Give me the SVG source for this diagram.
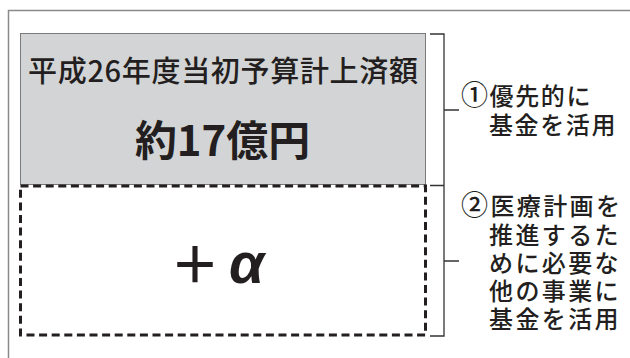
<svg xmlns="http://www.w3.org/2000/svg" width="630" height="358" viewBox="0 0 630 358">
<style>
.frame{fill:none;stroke:#8a8a8a;stroke-width:1.5}
.gray{fill:#d3d4d6;stroke:#7a7a7a;stroke-width:1}
.dash{fill:none;stroke:#231f20;stroke-width:3;stroke-dasharray:8 4.6}
.br{fill:none;stroke:#333;stroke-width:1.3}
.jp{font-family:"Noto Sans CJK JP","Noto Sans",sans-serif;fill:#231f20}
.lbl{font-size:24px;letter-spacing:1.6px;font-weight:500}
.num{font-size:27px}
</style>
<rect width="630" height="358" fill="#fff"/>
<path class="frame" d="M8.5,358 V10.5 H630"/>
<g id="budget">
<rect class="gray" x="20.5" y="33.5" width="405" height="151"/>
<text class="jp" x="28" y="82" font-size="29" font-weight="500" textLength="390" lengthAdjust="spacing">平成26年度当初予算計上済額</text>
<text class="jp" x="135" y="156" font-size="42" font-weight="bold" textLength="175" lengthAdjust="spacingAndGlyphs">約17億円</text>
</g>
<g id="alpha">
<rect class="dash" x="20.5" y="186" width="405" height="149"/>
<text class="jp" y="283"><tspan x="170" font-size="50" font-weight="bold">＋</tspan><tspan x="229" font-family="Liberation Sans,sans-serif" font-size="57" font-weight="bold" font-style="italic">α</tspan></text>
</g>
<g id="connectors">
<path class="br" d="M430,34 H444 V336 H430 M430,185.5 H444 M444,110 H459 M444,261 H459"/>
</g>
<g id="label1">
<text class="jp lbl"><tspan x="461" y="105"><tspan class="num">①</tspan>優先的に</tspan><tspan x="489" y="134">基金を活用</tspan></text>
</g>
<g id="label2">
<text class="jp lbl" style="letter-spacing:2.4px"><tspan x="461" y="215"><tspan class="num">②</tspan>医療計画を</tspan><tspan x="489" y="244">推進するた</tspan><tspan x="489" y="272">めに必要な</tspan><tspan x="489" y="300">他の事業に</tspan><tspan x="489" y="328">基金を活用</tspan></text>
</g>
</svg>
